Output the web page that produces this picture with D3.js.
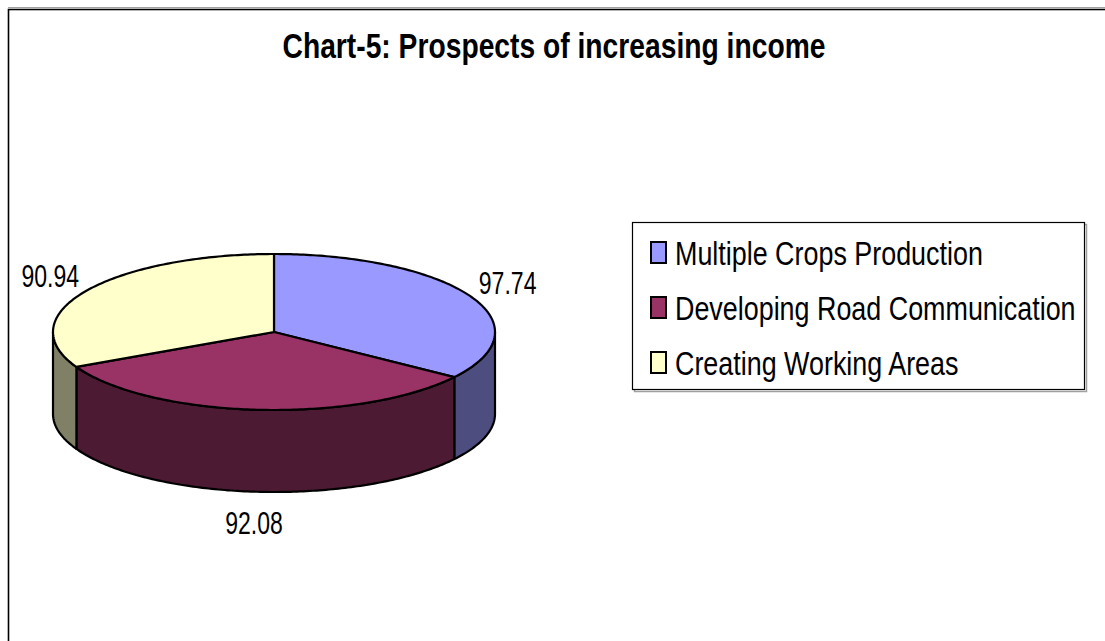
<!DOCTYPE html>
<html><head><meta charset="utf-8">
<script src="https://cdn.jsdelivr.net/npm/d3@7"></script>
<style>body{margin:0;background:#fff}</style>
</head><body>
<svg id="c" width="1105" height="641"></svg>
<script>
const categories = ["Multiple Crops Production", "Developing Road Communication", "Creating Working Areas"];
const values = [97.74, 92.08, 90.94];
const valueLabels = ["97.74", "92.08", "90.94"];
const title = "Chart-5: Prospects of increasing income";
const topColors = ["#9999FF", "#993366", "#FFFFCC"];
const sideColors = ["#4D4D80", "#4D1A33", "#808066"];

const W = 1105, H = 641;
const svg = d3.select("#c");
const FONT = "'Liberation Sans', Arial, sans-serif";

svg.append("rect").attr("width", W).attr("height", H).attr("fill", "#fff");
// chart frame
svg.append("line").attr("x1", 8).attr("x2", W).attr("y1", 7.5).attr("y2", 7.5)
  .attr("stroke", "#a0a0a0").attr("stroke-width", 1);
svg.append("rect").attr("x", 8.5).attr("y", 9.5).attr("width", W).attr("height", H)
  .attr("fill", "none").attr("stroke", "#000").attr("stroke-width", 1.6);

// title
svg.append("text").attr("transform", "translate(554,58) scale(0.807,1)")
  .attr("text-anchor", "middle").attr("font-family", FONT).attr("font-weight", "bold")
  .attr("font-size", 35).attr("fill", "#000").text(title);

// 3D pie geometry
const cx = 274, cy = 332, rx = 221, ry = 78, depth = 82;
const arcs = d3.pie().sort(null).value(d => d)(values);
const px = a => cx + rx * Math.sin(a);
const py = a => cy - ry * Math.cos(a);
const line = d3.line();
function arcPts(a0, a1, dy) {
  const n = Math.max(2, Math.ceil(Math.abs(a1 - a0) / 0.015));
  return d3.range(n + 1).map(i => {
    const a = a0 + (a1 - a0) * i / n;
    return [px(a), py(a) + dy];
  });
}

const g = svg.append("g");
// front walls
arcs.forEach((p, i) => {
  const a0 = Math.max(p.startAngle, Math.PI / 2);
  const a1 = Math.min(p.endAngle, 3 * Math.PI / 2);
  if (a1 <= a0) return;
  const pts = arcPts(a0, a1, 0).concat(arcPts(a1, a0, depth));
  g.append("path").attr("d", line(pts) + "Z")
    .attr("fill", sideColors[i]).attr("stroke", "#000")
    .attr("stroke-width", 2.2).attr("stroke-linejoin", "round");
});
// top faces
arcs.forEach((p, i) => {
  const pts = [[cx, cy]].concat(arcPts(p.startAngle, p.endAngle, 0));
  g.append("path").attr("d", line(pts) + "Z")
    .attr("fill", topColors[i]).attr("stroke", "#000")
    .attr("stroke-width", 2.2).attr("stroke-linejoin", "round");
});

// value labels
arcs.forEach((p, i) => {
  const a = (p.startAngle + p.endAngle) / 2;
  const x = cx + (rx + 42) * Math.sin(a);
  const y = cy - (ry + 30) * Math.cos(a) + (Math.cos(a) < 0 ? depth : 0);
  svg.append("text").attr("transform", `translate(${x},${y + 12}) scale(0.72,1)`)
    .attr("text-anchor", "middle").attr("font-family", FONT)
    .attr("font-size", 32).attr("fill", "#000").text(valueLabels[i]);
});

// legend
const lg = svg.append("g");
lg.append("rect").attr("x", 634.5).attr("y", 224.5).attr("width", 452).attr("height", 167)
  .attr("fill", "none").attr("stroke", "#a0a0a0").attr("stroke-width", 1.5);
lg.append("rect").attr("x", 632.5).attr("y", 222.5).attr("width", 452).attr("height", 167)
  .attr("fill", "#fff").attr("stroke", "#000").attr("stroke-width", 1.2);
const rowY = d3.scalePoint().domain(categories).range([252, 362]);
categories.forEach((c, i) => {
  const y = rowY(c);
  lg.append("rect").attr("x", 651).attr("y", y - 10).attr("width", 15).attr("height", 21)
    .attr("fill", topColors[i]).attr("stroke", "#000").attr("stroke-width", 2);
  lg.append("text").attr("transform", `translate(675,${y + 13}) scale(0.815,1)`)
    .attr("font-family", FONT).attr("font-size", 33).attr("fill", "#000").text(c);
});
</script>
</body></html>
